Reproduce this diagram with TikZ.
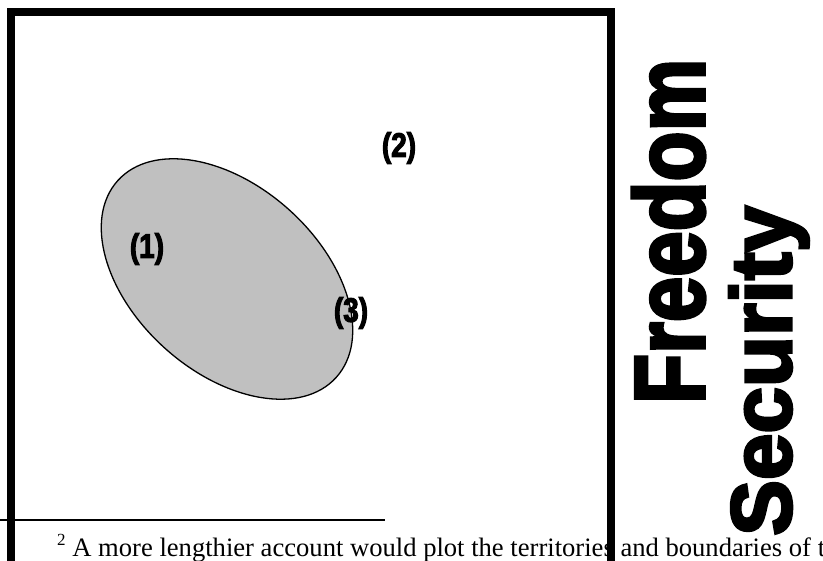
\documentclass[tikz,border=0pt]{standalone}
\usepackage{fontspec}
\usepackage{graphicx}
\setmainfont{Liberation Serif}
\newfontfamily\bigfont{Liberation Sans Bold}[FakeBold=3.5]
\newfontfamily\lblfont{Liberation Sans Bold}[FakeBold=3, FakeStretch=0.82]
\tikzset{
  frame/.style={line width=8pt, draw=black},
  region/.style={draw=black, line width=1.3pt, fill={rgb,255:red,192;green,192;blue,192}},
  lbl/.style={inner sep=0pt, font=\fontsize{34pt}{34pt}\lblfont},
  bigword/.style={rotate=90, anchor=base west, inner sep=0pt},
  fnrule/.style={line width=1.4pt},
  fntext/.style={anchor=base west, inner sep=0pt, font=\fontsize{26.6pt}{30pt}\selectfont}
}
\begin{document}
\begin{tikzpicture}[x=1pt, y=-1pt]
\useasboundingbox (0,0) rectangle (823,561);
\clip (0,0) rectangle (823,561);
% ellipse
\draw[region, rotate around={-42:(227,279)}] (227,279) ellipse [x radius=147pt, y radius=93pt];
\coordinate (ec) at (227,279);
% labels
\node[lbl] (l1) at (147,249) {(1)};
\node[lbl] (l2) at (399,148) {(2)};
\node[lbl] (l3) at (351,313) {(3)};
% vertical words
\node[bigword] (freedom) at (704,404) {\resizebox{345pt}{72pt}{\fontsize{100pt}{100pt}\bigfont Freedom}};
\node[bigword] (security) at (791,536) {\resizebox{330pt}{62pt}{\fontsize{86pt}{86pt}\bigfont Security}};
% footnote
\coordinate (r0) at (0,520);
\coordinate (r1) at (385,520);
\draw[fnrule] (r0) -- (r1);
\node[fntext] (fn) at (57,556) {{\fontsize{17pt}{17pt}\selectfont\raisebox{10pt}{2}} A more lengthier account would plot the territories and boundaries of the};
% frame
\draw[frame] (11,12) rectangle (611,565);
\end{tikzpicture}
\end{document}
